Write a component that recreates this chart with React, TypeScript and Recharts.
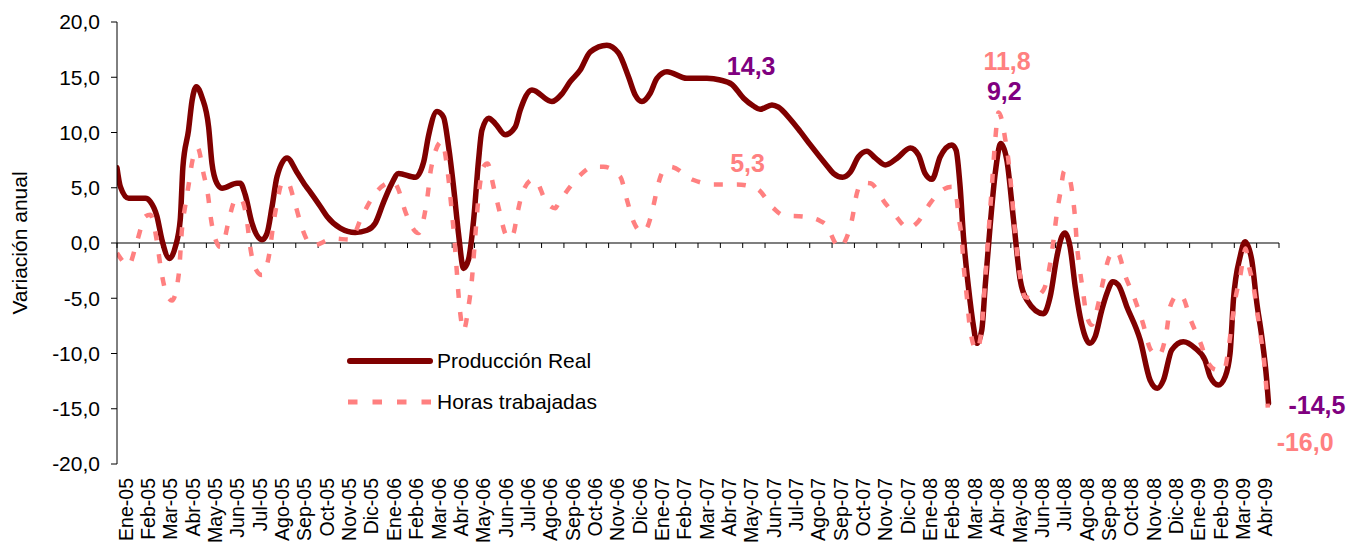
import {
  LineChart,
  Line,
  XAxis,
  YAxis,
  ReferenceLine,
  ReferenceDot,
  Legend,
} from "recharts";

const FONT = '"Liberation Sans", Arial, sans-serif';

const meses = [
  "Ene-05", "Feb-05", "Mar-05", "Abr-05", "May-05", "Jun-05", "Jul-05", "Ago-05", "Sep-05", "Oct-05", "Nov-05", "Dic-05",
  "Ene-06", "Feb-06", "Mar-06", "Abr-06", "May-06", "Jun-06", "Jul-06", "Ago-06", "Sep-06", "Oct-06", "Nov-06", "Dic-06",
  "Ene-07", "Feb-07", "Mar-07", "Abr-07", "May-07", "Jun-07", "Jul-07", "Ago-07", "Sep-07", "Oct-07", "Nov-07", "Dic-07",
  "Ene-08", "Feb-08", "Mar-08", "Abr-08", "May-08", "Jun-08", "Jul-08", "Ago-08", "Sep-08", "Oct-08", "Nov-08", "Dic-08",
  "Ene-09", "Feb-09", "Mar-09", "Abr-09",
];

const yTicks = [-20, -15, -10, -5, 0, 5, 10, 15, 20];

const series = ["Producción Real", "Horas trabajadas"];

// [mes (0 = inicio de Ene-05), variación anual]
const produccionReal: [number, number][] = [
  [0, 6.8], [0.15, 5.1], [0.52, 4.05], [1.27, 4.05], [1.49, 3.75], [1.79, 2.4], [2.01, 0.3], [2.35, -1.4],
  [2.61, -0.35], [2.83, 2.1], [2.95, 6.9], [3.2, 10.2], [3.36, 12.9], [3.55, 14.15], [3.8, 13.2], [4.1, 10.5],
  [4.25, 7.2], [4.47, 5.4], [4.7, 4.95], [5.37, 5.4], [5.52, 5.4], [5.74, 4.35], [6.04, 1.8], [6.49, 0.3],
  [6.71, 0.85], [6.94, 3.3], [7.16, 6.0], [7.61, 7.7], [8.05, 6.4], [8.43, 5.2], [8.65, 4.6], [9.1, 3.3],
  [9.4, 2.4], [9.99, 1.35], [10.66, 0.95], [11.19, 1.15], [11.56, 1.8], [11.93, 3.7], [12.3, 5.4], [12.6, 6.3],
  [13.35, 5.95], [13.72, 7.3], [13.94, 9.7], [14.32, 11.9], [14.61, 11.4], [14.84, 8.7], [15.06, 5.1], [15.28, 0.9],
  [15.51, -2.3], [15.73, -1.5], [15.96, 2.1], [16.18, 7.5], [16.33, 10.2], [16.63, 11.3], [16.93, 10.8], [17.37, 9.8],
  [17.82, 10.5], [18.04, 12.0], [18.57, 13.85], [19.46, 12.8], [19.91, 13.5], [20.28, 14.6], [20.73, 15.65], [21.18, 17.3],
  [21.92, 17.9], [22.44, 17.2], [22.89, 15.05], [23.19, 13.4], [23.49, 12.8], [23.86, 13.55], [24.16, 14.9], [24.61, 15.5],
  [25.5, 14.9], [26.4, 14.9], [26.99, 14.75], [27.52, 14.35], [28.04, 13.1], [28.48, 12.4], [28.78, 12.1], [29.31, 12.5],
  [29.6, 12.3], [30.13, 11.2], [30.57, 10.1], [31.02, 8.9], [31.77, 7.0], [32.06, 6.3], [32.47, 5.95], [32.81, 6.4],
  [33.18, 7.8], [33.56, 8.3], [33.93, 7.7], [34.38, 7.06], [34.9, 7.66], [35.5, 8.6], [35.87, 7.96], [36.16, 6.3],
  [36.47, 5.76], [36.84, 7.8], [37.36, 8.87], [37.55, 8.4], [37.73, 5.1], [37.88, 0.57], [38.1, -3.95], [38.33, -7.57],
  [38.48, -9.08], [38.7, -7.87], [38.85, -3.95], [39.07, 1.48], [39.3, 6.3], [39.55, 9.0], [39.82, 7.5], [40.12, 2.08],
  [40.42, -3.35], [40.72, -5.16], [41.46, -6.4], [41.76, -4.86], [42.06, -1.24], [42.28, 0.57], [42.43, 0.9], [42.65, -0.33],
  [42.88, -3.95], [43.1, -6.67], [43.33, -8.48], [43.52, -9.08], [43.77, -8.48], [44.07, -6.06], [44.3, -4.55], [44.56, -3.5],
  [44.81, -3.8], [45.19, -5.76], [45.79, -8.78], [46.23, -12.4], [46.56, -13.15], [46.83, -12.4], [47.2, -9.68], [47.72, -8.93],
  [48.25, -9.53], [48.69, -10.6], [48.92, -12.1], [49.29, -12.85], [49.59, -12.1], [49.81, -9.98], [49.96, -5.16], [50.26, -1.24],
  [50.48, 0.12], [50.78, -1.54], [51.01, -5.46], [51.23, -8.48], [51.45, -12.4], [51.53, -14.5],
];

const horasTrabajadas: [number, number][] = [
  [0, -0.9], [0.52, -2.0], [0.89, 0.1], [1.27, 2.4], [1.49, 2.55], [1.79, 0.1], [1.94, -2.0], [2.16, -4.25],
  [2.46, -5.2], [2.76, -2.9], [2.91, 1.3], [3.06, 3.45], [3.2, 5.2], [3.38, 7.5], [3.61, 8.6], [3.87, 6.3],
  [4.07, 4.35], [4.21, 2.1], [4.47, 0], [4.62, -0.35], [4.77, 0.05], [4.99, 1.95], [5.29, 3.9], [5.52, 4.05],
  [5.82, 1.95], [5.96, -0.35], [6.19, -2.3], [6.49, -2.9], [6.64, -2.45], [6.83, -0.8], [6.98, 1.5], [7.16, 3.6],
  [7.38, 5.4], [7.61, 5.55], [7.98, 3.45], [8.28, 1.35], [8.74, -0.25], [9.69, 0.4], [10.44, 0.3], [10.96, 2.4],
  [11.56, 4.5], [12.38, 5.55], [12.6, 4.8], [12.9, 2.85], [13.49, 0.9], [13.88, 4.0], [14.06, 6.8], [14.54, 9.2],
  [14.77, 6.9], [14.99, 2.7], [15.09, 0.57], [15.18, -1.84], [15.33, -5.76], [15.51, -7.9], [15.73, -5.76], [15.88, -3.35],
  [16.03, 0.57], [16.18, 4.2], [16.4, 6.9], [16.58, 7.2], [16.85, 5.1], [17.12, 2.85], [17.37, 0.87], [17.52, 0.42],
  [17.74, 0.87], [17.92, 2.7], [18.19, 4.8], [18.64, 5.76], [18.79, 5.55], [19.16, 3.9], [19.61, 3.15], [19.76, 3.6],
  [20.28, 5.1], [20.73, 6.15], [21.32, 6.9], [21.77, 6.9], [22.52, 6.0], [22.82, 3.9], [23.11, 1.95], [23.49, 1.0],
  [23.71, 1.35], [23.98, 3.15], [24.23, 5.4], [24.46, 6.6], [24.76, 6.9], [25.8, 5.7], [26.69, 5.3], [27.74, 5.3],
  [28.64, 4.9], [29.38, 3.15], [29.83, 2.5], [30.72, 2.4], [31.47, 2.0], [31.77, 1.55], [32.14, 0], [32.34, -0.45],
  [32.59, 0.2], [32.89, 2.1], [33.11, 4.5], [33.33, 5.45], [33.71, 5.4], [34.38, 3.6], [34.75, 2.7], [35.42, 1.35],
  [35.79, 1.8], [36.39, 3.6], [36.76, 4.5], [37.36, 5.1], [37.55, 4.35], [37.66, 2.4], [37.81, 0.27], [37.88, -1.84],
  [38.03, -4.86], [38.18, -7.87], [38.48, -9.7], [38.7, -7.57], [38.85, -3.35], [39.0, 0.87], [39.15, 5.1], [39.3, 9.3],
  [39.45, 11.8], [39.6, 11.1], [39.74, 9.5], [39.89, 7.5], [40.04, 4.5], [40.19, 0.87], [40.42, -3.05], [40.64, -4.9],
  [40.96, -5.0], [41.46, -4.25], [41.76, -1.84], [41.91, 0.27], [42.06, 2.7], [42.21, 4.5], [42.39, 6.5], [42.58, 6.15],
  [42.78, 4.05], [42.88, 2.1], [42.95, 0], [43.07, -2.15], [43.22, -4.25], [43.37, -6.35], [43.62, -7.4], [43.92, -5.45],
  [44.14, -3.35], [44.41, -1.25], [44.67, -0.75], [44.81, -0.95], [45.11, -2.9], [45.56, -5.15], [45.93, -7.4], [46.23, -9.55],
  [46.6, -10.2], [46.98, -7.85], [47.13, -5.75], [47.5, -4.65], [47.72, -5.0], [48.02, -6.8], [48.47, -8.95], [48.84, -10.9],
  [49.22, -11.5], [49.54, -11.5], [49.74, -9.55], [49.89, -7.25], [50.04, -5.15], [50.26, -3.05], [50.51, -0.5], [50.63, -1.85],
  [50.86, -3.95], [51.01, -6.05], [51.16, -8.15], [51.31, -10.3], [51.5, -14.9],
];

// etiquetas de valores destacados
const etiquetas = [
  { t: 28.38, v: 16.0, texto: "14,3", color: "#800080" },
  { t: 28.22, v: 7.24, texto: "5,3", color: "#FF8080" },
  { t: 39.83, v: 16.5, texto: "11,8", color: "#FF8080" },
  { t: 39.71, v: 13.73, texto: "9,2", color: "#800080" },
  { t: 53.7, v: -14.63, texto: "-14,5", color: "#800080" },
  { t: 53.17, v: -18.0, texto: "-16,0", color: "#FF8080" },
];

const prodData = produccionReal.map(([t, v]) => ({ t, v }));
const horasData = horasTrabajadas.map(([t, v]) => ({ t, v }));
const xTicks = meses.map((_, i) => i + 0.5);
const marcas = Array.from({ length: meses.length + 1 }, (_, i) => i);

const fmt = (v: number) => v.toFixed(1).replace(".", ",");

const MesTick = (props: any) => {
  const { x, y, payload } = props;
  const bx = x + 4.5;
  return (
    <text
      x={bx}
      y={y}
      transform={`rotate(-90, ${bx}, ${y})`}
      textAnchor="end"
      fontSize={19.5}
      fill="#000"
      fontFamily={FONT}
    >
      {meses[Math.floor(payload.value)]}
    </text>
  );
};

const TituloY = (props: any) => {
  const { viewBox } = props;
  const cx = viewBox.x + 27;
  const cy = viewBox.y + viewBox.height / 2;
  return (
    <text
      x={cx}
      y={cy}
      transform={`rotate(-90, ${cx}, ${cy})`}
      textAnchor="middle"
      fontSize={21}
      fill="#000"
      fontFamily={FONT}
    >
      Variación anual
    </text>
  );
};

const Leyenda = (props: any) => {
  const items = [...(props.payload ?? [])].sort(
    (a: any, b: any) => series.indexOf(a.value) - series.indexOf(b.value)
  );
  return (
    <div style={{ fontFamily: FONT, fontSize: 21, color: "#000" }}>
      {items.map((e: any) => {
        const dash = e.payload?.strokeDasharray;
        return (
          <div key={e.value} style={{ display: "flex", alignItems: "center", height: 41 }}>
            <svg width={88} height={10}>
              <line
                x1={dash ? 2 : 4}
                y1={5}
                x2={dash ? 86 : 84}
                y2={5}
                stroke={e.color}
                strokeWidth={dash ? 5 : 6}
                strokeDasharray={dash ? "9.5 15" : undefined}
                strokeLinecap={dash ? "butt" : "round"}
              />
            </svg>
            <span style={{ marginLeft: 3, lineHeight: "24px" }}>{e.value}</span>
          </div>
        );
      })}
    </div>
  );
};

export default function App() {
  return (
    <div style={{ position: "absolute", left: 0, top: 0, fontFamily: FONT }}>
      <LineChart width={1362} height={548} margin={{ top: 22, right: 83, left: 0, bottom: 0 }}>
        <XAxis
          type="number"
          dataKey="t"
          domain={[0, 52]}
          ticks={xTicks}
          interval={0}
          tick={<MesTick />}
          axisLine={false}
          tickLine={false}
          tickSize={6}
          tickMargin={8}
          height={84}
          allowDataOverflow
        />
        <YAxis
          type="number"
          domain={[-20, 20]}
          ticks={yTicks}
          interval={0}
          tickFormatter={fmt}
          width={117}
          axisLine={{ stroke: "#000" }}
          tickLine={{ stroke: "#000" }}
          tickSize={6}
          tickMargin={11}
          tick={{ fill: "#000", fontSize: 21, fontFamily: FONT }}
          allowDataOverflow
          label={{ content: <TituloY /> }}
        />
        <ReferenceLine y={0} stroke="#000" strokeWidth={1.2} />
        {marcas.map((m) => (
          <ReferenceLine
            key={m}
            segment={[{ x: m, y: 0 }, { x: m, y: -0.45 }]}
            stroke="#000"
            strokeWidth={1}
          />
        ))}
        <Legend
          layout="vertical"
          align="center"
          verticalAlign="middle"
          wrapperStyle={{ left: 346, top: 340, width: "auto" }}
          content={<Leyenda />}
        />
        <Line
          data={prodData}
          dataKey="v"
          name={series[0]}
          type="monotone"
          stroke="#800000"
          strokeWidth={5.5}
          strokeLinejoin="round"
          strokeLinecap="round"
          dot={false}
          activeDot={false}
          isAnimationActive={false}
        />
        <Line
          data={horasData}
          dataKey="v"
          name={series[1]}
          type="monotone"
          stroke="#FF8080"
          strokeWidth={4.5}
          strokeDasharray="9 14"
          dot={false}
          activeDot={false}
          isAnimationActive={false}
        />
        {etiquetas.map((e) => (
          <ReferenceDot
            key={e.texto}
            x={e.t}
            y={e.v}
            r={1}
            fill="none"
            stroke="none"
            ifOverflow="visible"
            label={{
              value: e.texto,
              position: "center",
              fill: e.color,
              fontSize: 25,
              fontWeight: "bold",
              fontFamily: FONT,
            }}
          />
        ))}
      </LineChart>
    </div>
  );
}
